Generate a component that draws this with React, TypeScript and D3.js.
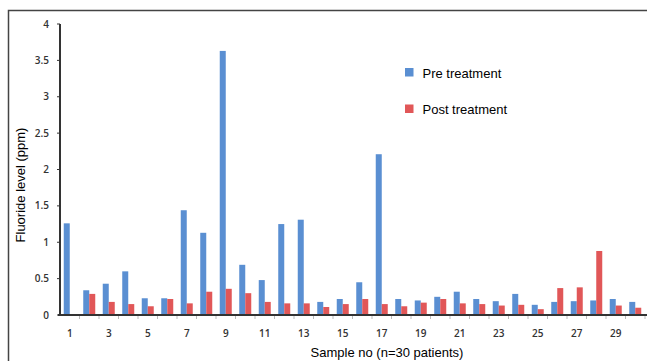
import React from "react";
import * as d3 from "d3";

const samples = d3.range(1, 31);
const preTreatment = [1.26, 0.34, 0.43, 0.6, 0.23, 0.23, 1.44, 1.13, 3.63, 0.69, 0.48, 1.25, 1.31, 0.18, 0.22, 0.45, 2.21, 0.22, 0.2, 0.25, 0.32, 0.22, 0.19, 0.29, 0.14, 0.18, 0.19, 0.2, 0.22, 0.18];
const postTreatment = [0.01, 0.29, 0.18, 0.15, 0.12, 0.22, 0.16, 0.32, 0.36, 0.3, 0.18, 0.16, 0.16, 0.11, 0.15, 0.22, 0.15, 0.12, 0.17, 0.22, 0.16, 0.15, 0.13, 0.14, 0.08, 0.37, 0.38, 0.88, 0.13, 0.1];
const series = [
  { key: "pre", label: "Pre treatment", color: "#5a8fd2", values: preTreatment },
  { key: "post", label: "Post treatment", color: "#e15758", values: postTreatment },
];
const yTicks = [0, 0.5, 1, 1.5, 2, 2.5, 3, 3.5, 4];

const W = 647, H = 361;
const margin = { left: 60, right: 2, top: 24, bottom: 46 };

export default function App() {
  const x = d3.scaleBand<number>().domain(samples).range([margin.left, 645]);
  const xs = d3.scaleBand<string>().domain(series.map(s => s.key)).range([0, x.bandwidth()]).paddingInner(0).paddingOuter(0.625);
  const y = d3.scaleLinear().domain([0, 4]).range([H - margin.bottom, margin.top]);
  const y0 = y(0);
  const labelFont = "'Open Sans', sans-serif";

  return (
    <svg width={W} height={H} style={{ position: "absolute", left: 0, top: 0, background: "#fff" }}>
      {/* outer frame */}
      <path d={`M8.5,${H} V10.5 H${W}`} fill="none" stroke="#444" strokeWidth={1.5} />

      {/* bars */}
      {series.map(s => (
        <g key={s.key}>
          {s.values.map((v, i) => (
            <rect key={i} x={x(samples[i])! + xs(s.key)!} y={y(v)} width={xs.bandwidth()}
              height={y0 - y(v)} fill={s.color} />
          ))}
        </g>
      ))}

      {/* x ticks at category boundaries */}
      {samples.map(d => (
        <line key={d} x1={x(d)! + x.bandwidth()} x2={x(d)! + x.bandwidth()} y1={y0} y2={y0 + 4} stroke="#bbb" />
      ))}
      {samples.filter(d => d % 2 === 1).map(d => (
        <text key={d} x={x(d)! + x.bandwidth() / 2} y={337} textAnchor="middle" fontFamily={labelFont}
          fontWeight={600} fontSize={10} fill="#333">{d}</text>
      ))}

      {/* y axis */}
      {yTicks.map(t => (
        <g key={t}>
          <line x1={margin.left - 3} x2={margin.left} y1={y(t)} y2={y(t)} stroke="#333" />
          <text x={49} y={y(t)} dy="0.35em" textAnchor="end" fontFamily={labelFont} fontWeight={600}
            fontSize={10} fill="#333">{t}</text>
        </g>
      ))}
      <line x1={margin.left} x2={margin.left} y1={y(4)} y2={y0 + 1} stroke="#333" strokeWidth={2} />
      <line x1={margin.left - 2} x2={W} y1={y0} y2={y0} stroke="#333" strokeWidth={2} />

      {/* axis titles */}
      <text transform="translate(25,185) rotate(-90)" textAnchor="middle" fontFamily="Arial, 'Liberation Sans', sans-serif"
        fontSize={13} fill="#000">Fluoride level (ppm)</text>
      <text x={387} y={357} textAnchor="middle" fontFamily="Arial, 'Liberation Sans', sans-serif"
        fontSize={13} fill="#000">Sample no (n=30 patients)</text>

      {/* legend */}
      {series.map((s, i) => (
        <g key={s.key} transform={`translate(405,${68 + i * 36.5})`}>
          <rect x={0} y={0} width={8.5} height={8.5} fill={s.color} />
          <text x={17.5} y={9.5} fontFamily="Arial, 'Liberation Sans', sans-serif" fontSize={13} fill="#000">{s.label}</text>
        </g>
      ))}
    </svg>
  );
}
